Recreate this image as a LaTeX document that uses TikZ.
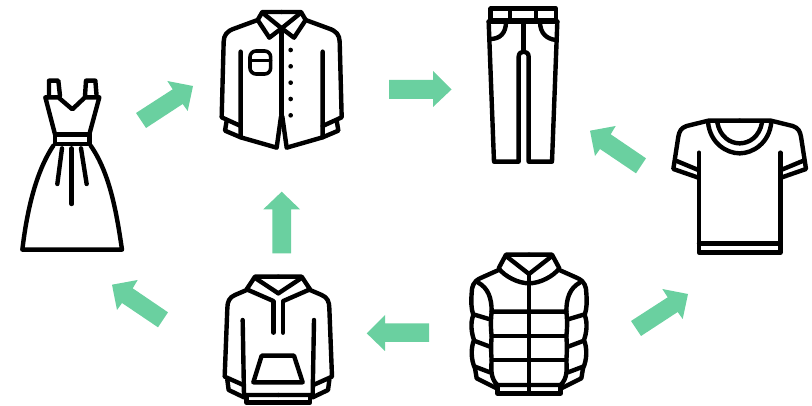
\documentclass[tikz,border=0pt]{standalone}
\tikzset{
  ink/.style={draw=black,line width=4.4pt,line cap=round,line join=round},
  thin ink/.style={draw=black,line width=3.6pt,line cap=round,line join=round},
  flowarrow/.style={fill=arrowgreen,draw=none},
  iconzoom/.style={x=0.33333pt,y=-0.33333pt},
}
\definecolor{arrowgreen}{HTML}{6AD0A0}
% draws #2 and its reflection about x=#1 (in 3x zoom units)
\newcommand\mirrorpair[2]{#2\begin{scope}[xshift=#1*0.66667pt,xscale=-1]#2\end{scope}}
\begin{document}
\begin{tikzpicture}[x=1pt,y=-1pt]
\useasboundingbox (0,0) rectangle (812,406);
% ---------- arrows
\fill[flowarrow] (136,113)--(172.7,89.3)--(167.3,81)--(193,86)--(187.7,111)--(182.7,104)--(146,128)--cycle;
\begin{scope}[shift={(495pt,-208pt)}]
\fill[flowarrow] (136,113)--(172.7,89.3)--(167.3,81)--(193,86)--(187.7,111)--(182.7,104)--(146,128)--cycle;
\end{scope}
\fill[flowarrow] (272.3,253.5)--(272.3,209.3)--(263.3,209.3)--(281.7,191.7)--(300,209.3)--(291,209.3)--(291,253.5)--cycle;
\fill[flowarrow] (389,80)--(433,80)--(433,71)--(451.5,89.5)--(433,107)--(433,99)--(389,99)--cycle;
\fill[flowarrow] (646,158.3)--(610.7,134.3)--(615.7,126)--(590,130.7)--(595,156)--(600,149)--(636,173.3)--cycle;
\begin{scope}[shift={(-478pt,-154pt)}]
\fill[flowarrow] (646,158.3)--(610.7,134.3)--(615.7,126)--(590,130.7)--(595,156)--(600,149)--(636,173.3)--cycle;
\end{scope}
\fill[flowarrow] (429,323.3)--(385,323.3)--(385,315)--(366.7,333.3)--(385,351)--(385,342)--(429,342)--cycle;
% ---------- dress
\begin{scope}[iconzoom]
\draw[ink] (147,290)--(147,242)--(175,242)--(180,288);
\draw[ink] (255,288)--(258,242)--(286,242)--(290,290);
\draw[ink] (165,403)--(136,292)--(175,292)--(217,328)--(255,292)--(298,292)--(268,403);
\draw[ink] (165,403) rectangle (268,432);
\draw[ink] (160,437) .. controls (105,520) and (80,640) .. (67,749)--(366,749)
  .. controls (350,640) and (330,520) .. (272,437);
\draw[ink] (186,445)--(172,552);
\draw[ink] (215,445)--(215,612);
\draw[ink] (243,445)--(260,552);
\end{scope}
% ---------- shirt
\begin{scope}[iconzoom]
\mirrorpair{845}{
\draw[ink] (845,36)--(787,36)--(773,60)--(808,113)--(845,85);
\draw[ink] (787,38)--(845,85);
\draw[ink] (773,60)--(705,85) .. controls (680,93) and (672,105) .. (671,125)--(665,352)--(722,378);
\draw[ink] (680,362)--(675,392)--(722,412);
\draw[ink] (722,155)--(722,412)--(830,443)--(843,350);
}
\draw[ink] (845,88)--(845,345);
\draw[thin ink,rounded corners=6pt] (750,153) rectangle (812,222);
\draw[thin ink] (750,181)--(812,181);
\foreach \yy in {150,199,248,297,346}{\fill (872,\yy) circle (7);}
\end{scope}
% ---------- pants
\begin{scope}[shift={(470pt,0pt)},iconzoom]
\draw[ink] (62,26) rectangle (258,62);
\draw[ink] (120,26)--(120,62);
\draw[ink] (198,26)--(198,62);
\draw[ink] (56,65)--(262,65);
\draw[ink] (56,65)--(72,485)--(146,485)--(146,170) .. controls (146,150) and (176,150) .. (176,170)--(176,485)--(246,485)--(262,65);
\draw[ink] (160,65)--(160,152);
\draw[ink] (60,117) .. controls (90,117) and (108,100) .. (108,65);
\draw[ink] (258,120) .. controls (230,117) and (210,100) .. (210,65);
\end{scope}
% ---------- t-shirt
\begin{scope}[shift={(470pt,0pt)},iconzoom]
\mirrorpair{809}{
\draw[ink] (809,362)--(715,362)--(650,378) .. controls (632,384) and (628,395) .. (625,410)--(610,507)--(685,533);
\draw[ink] (620,483)--(685,510);
\draw[ink] (687,458)--(687,758)--(809,758);
\draw[ink] (687,730)--(809,730);
\draw[ink] (714,366) .. controls (720,430) and (770,460) .. (809,460);
\draw[ink] (742,368) .. controls (750,410) and (780,430) .. (809,430);
}
\end{scope}
% ---------- hoodie
\begin{scope}[shift={(210pt,-250pt)},iconzoom]
\mirrorpair{205}{
\draw[ink] (205,80)--(135,80)--(110,118)--(190,153);
\draw[ink] (137,85)--(205,130);
\draw[ink] (110,120)--(75,135) .. controls (58,142) and (52,155) .. (52,175)--(44,380)--(100,405);
\draw[ink] (52,390)--(56,420)--(102,442);
\draw[ink] (98,210)--(102,435)--(205,435);
\draw[ink] (110,438)--(110,458)--(205,458);
\draw[ink] (191,155)--(191,248);
}
\draw[ink] (155,317)--(252,317)--(278,397)--(130,397)--cycle;
\end{scope}
% ---------- jacket
\begin{scope}[shift={(210pt,-250pt)},iconzoom]
\mirrorpair{957}{
\draw[ink] (957,14)--(888,14)--(866,55) .. controls (885,80) and (925,100) .. (957,100);
\draw[ink] (888,18)--(957,72);
\draw[ink] (866,60)--(810,85) .. controls (790,95) and (785,110) .. (785,130) .. controls (783,150) and (783,175) .. (790,195)
  .. controls (780,220) and (785,250) .. (792,270) .. controls (782,295) and (783,330) .. (795,355)--(800,385)--(860,415);
\draw[ink] (805,98) .. controls (835,115) and (845,145) .. (845,185)--(957,185);
\draw[ink] (790,193)--(840,208);
\draw[ink] (792,272)--(840,290);
\draw[ink] (795,350)--(840,367);
\draw[ink] (845,185) .. controls (842,210) and (842,235) .. (845,258) .. controls (843,280) and (843,310) .. (845,330)
  .. controls (843,360) and (842,385) .. (862,405)--(957,405);
\draw[ink] (845,258)--(957,258);
\draw[ink] (845,330)--(957,330);
\draw[ink] (862,405)--(862,430)--(957,430);
}
\draw[ink] (957,75)--(957,430);
\end{scope}
\end{tikzpicture}
\end{document}
